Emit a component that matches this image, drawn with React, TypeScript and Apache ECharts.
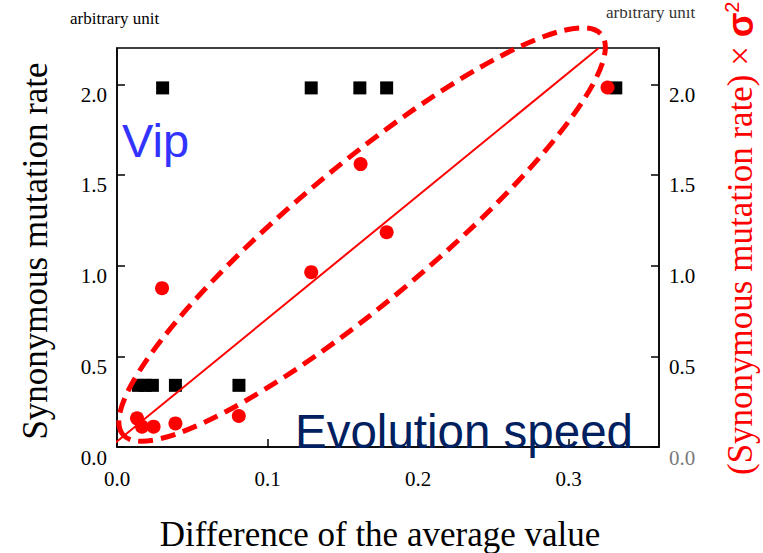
import React, { useEffect, useRef } from 'react';
import * as echarts from 'echarts';

// Black squares: synonymous mutation rate
const squareX = [0.0142, 0.0188, 0.0235, 0.0388, 0.081, 0.0303, 0.129, 0.1613, 0.1791, 0.3313];
const squareY = [0.34, 0.34, 0.34, 0.34, 0.34, 1.98, 1.98, 1.98, 1.98, 1.98];

// Red circles: (synonymous mutation rate) x sigma^2
const circleX = [0.0133, 0.0166, 0.0243, 0.0388, 0.0809, 0.0299, 0.129, 0.1618, 0.1791, 0.3258];
const circleY = [0.158, 0.112, 0.112, 0.13, 0.171, 0.876, 0.964, 1.56, 1.184, 1.982];

// Trend line through the red points
const trendX = [-0.0045, 0.32];
const trendY = [0, 2.2];

// Dashed enclosure around the red points (centre in data units)
const enclosureCenter = [0.1628, 1.1716];
const enclosureRadii = [312, 68];
const enclosureAngleDeg = 39.9;

const xRange = [0, 0.36];
const yRange = [0, 2.2];
const xStep = 0.1;
const yStep = 0.5;

const SERIF = "'Liberation Serif', 'Times New Roman', serif";
const SANS = "'Liberation Sans', Arial, sans-serif";

export default function App() {
  const ref = useRef<HTMLDivElement>(null);

  useEffect(() => {
    if (!ref.current) return;
    const chart = echarts.init(ref.current, undefined, { renderer: 'svg' });

    const tickLabel = (v: number) => v.toFixed(1);
    const yAxisBase = {
      type: 'value' as const,
      min: yRange[0],
      max: yRange[1],
      interval: yStep,
      splitLine: { show: false },
      axisLine: { show: true, lineStyle: { color: '#000', width: 1.5 } },
      axisTick: { show: true, inside: true, length: 8, lineStyle: { color: '#000', width: 1.5 } },
    };

    chart.setOption({
      animation: false,
      backgroundColor: '#fff',
      grid: {
        left: 117,
        right: 104,
        top: 48,
        bottom: 106,
        show: true,
        borderColor: '#000',
        borderWidth: 1.5,
        backgroundColor: 'transparent',
      },
      xAxis: {
        type: 'value',
        min: xRange[0],
        max: xRange[1],
        interval: xStep,
        splitLine: { show: false },
        axisLine: { show: true, onZero: false, lineStyle: { color: '#000', width: 1.5 } },
        axisTick: { show: true, inside: true, length: 8, lineStyle: { color: '#000', width: 1.5 } },
        axisLabel: {
          formatter: tickLabel,
          showMaxLabel: false,
          margin: 21,
          fontFamily: SERIF,
          fontSize: 21,
          color: '#000',
        },
      },
      yAxis: [
        {
          ...yAxisBase,
          position: 'left',
          axisLabel: {
            formatter: tickLabel,
            showMaxLabel: false,
            margin: 10,
            fontFamily: SERIF,
            fontSize: 21,
            color: '#000',
            verticalAlign: 'top',
          },
        },
        {
          ...yAxisBase,
          position: 'right',
          axisLabel: {
            formatter: tickLabel,
            showMaxLabel: false,
            margin: 10,
            fontFamily: SERIF,
            fontSize: 21,
            color: (v: any) => (Number(v) === 0 ? '#7a7a7a' : '#000'),
            verticalAlign: 'top',
          },
        },
      ],
      series: [
        {
          type: 'scatter',
          yAxisIndex: 0,
          symbol: 'rect',
          symbolSize: 13,
          itemStyle: { color: '#000', opacity: 1 },
          data: squareX.map((x, i) => [x, squareY[i]]),
          z: 2,
        },
        {
          type: 'line',
          yAxisIndex: 1,
          clip: false,
          symbol: 'none',
          lineStyle: { color: '#ff0000', width: 2 },
          data: trendX.map((x, i) => [x, trendY[i]]),
          z: 3,
        },
        {
          type: 'scatter',
          yAxisIndex: 1,
          symbol: 'circle',
          symbolSize: 14,
          itemStyle: { color: '#ff0000', opacity: 1 },
          data: circleX.map((x, i) => [x, circleY[i]]),
          z: 4,
        },
      ],
    });

    const c = chart.convertToPixel({ xAxisIndex: 0, yAxisIndex: 0 }, enclosureCenter) as number[];

    chart.setOption({
      graphic: [
        {
          type: 'ellipse',
          x: c[0],
          y: c[1],
          rotation: (enclosureAngleDeg * Math.PI) / 180,
          shape: { cx: 0, cy: 0, rx: enclosureRadii[0], ry: enclosureRadii[1] },
          style: { fill: 'none', stroke: '#ff0000', lineWidth: 5, lineDash: [15, 8] },
          z: 10,
        },
        {
          type: 'text',
          x: 70,
          y: 27,
          style: { text: 'arbitrary unit', font: `17px ${SERIF}`, fill: '#000', align: 'left', verticalAlign: 'bottom' },
        },
        {
          type: 'text',
          x: 606,
          y: 21,
          style: { text: 'arbitrary unit', font: `17px ${SERIF}`, fill: '#333', align: 'left', verticalAlign: 'bottom' },
          z: 5,
        },
        {
          // top strip trimming the upper half of the right-hand unit note
          type: 'rect',
          shape: { x: 600, y: 0, width: 110, height: 9 },
          style: { fill: '#fff' },
          z: 6,
        },
        {
          type: 'text',
          x: 122,
          y: 140.7,
          style: { text: 'Vip', font: `47px ${SANS}`, fill: '#3333ff', align: 'left', verticalAlign: 'middle' },
          z: 12,
        },
        {
          type: 'text',
          x: 295,
          y: 431.5,
          style: { text: 'Evolution speed', font: `47.5px ${SANS}`, fill: '#002060', align: 'left', verticalAlign: 'middle' },
          z: 12,
        },
        {
          type: 'text',
          x: 35,
          y: 251,
          rotation: Math.PI / 2,
          style: { text: 'Synonymous mutation rate', font: `35px ${SERIF}`, fill: '#000', align: 'center', verticalAlign: 'middle' },
        },
        {
          type: 'text',
          x: 380,
          y: 534,
          style: { text: 'Difference of the average value', font: `35px ${SERIF}`, fill: '#000', align: 'center', verticalAlign: 'middle' },
        },
        {
          type: 'text',
          x: 740,
          y: 475,
          rotation: Math.PI / 2,
          style: {
            text: '{p|(Synonymous mutation rate) × }{s|σ}{sup|2}',
            align: 'left',
            verticalAlign: 'middle',
            rich: {
              p: { fontFamily: SERIF, fontSize: 35, fill: '#ff0000', color: '#ff0000' },
              s: { fontFamily: SANS, fontWeight: 'bold', fontSize: 36, fill: '#ff0000', color: '#ff0000' },
              sup: { fontFamily: SANS, fontSize: 20, fill: '#ff0000', color: '#ff0000', verticalAlign: 'top' },
            },
          },
        },
      ],
    });

    return () => chart.dispose();
  }, []);

  return (
    <div
      ref={ref}
      style={{ position: 'fixed', left: 0, top: 0, width: 763, height: 553 }}
    />
  );
}
